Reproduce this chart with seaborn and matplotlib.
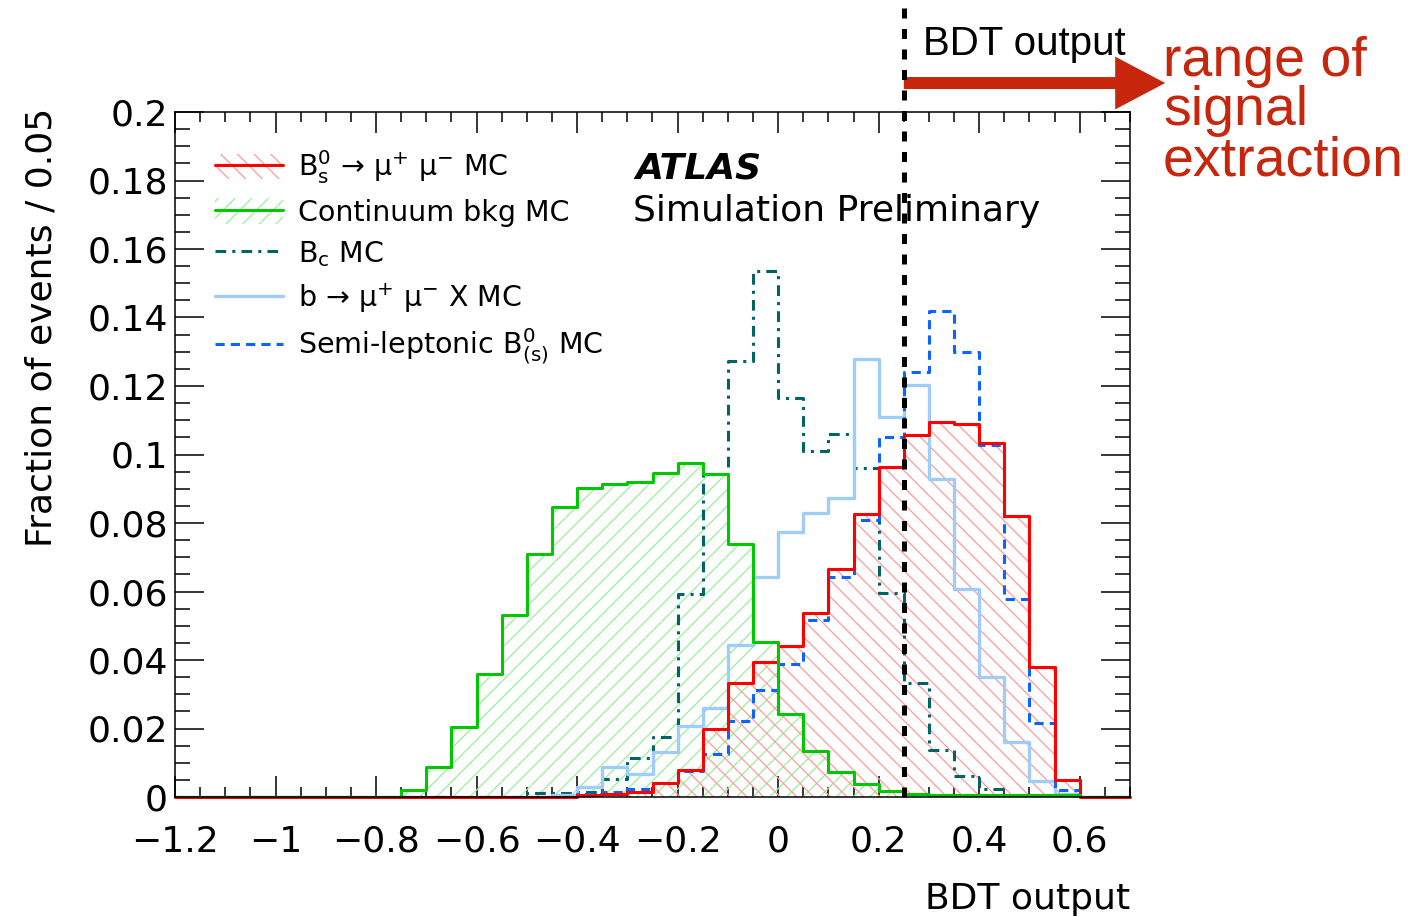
import numpy as np
import matplotlib
matplotlib.use("Agg")
import matplotlib.pyplot as plt
import seaborn as sns
from matplotlib.patches import Patch
from matplotlib.lines import Line2D
from matplotlib.legend_handler import HandlerTuple
from matplotlib.ticker import FixedLocator, MultipleLocator, FixedFormatter

# ---------------------------------------------------------------- data
# BDT output binning: 38 bins of width 0.05 between -1.2 and 0.7
BIN_LOW, BIN_WIDTH, N_BINS = -1.2, 0.05, 38
edges = [round(BIN_LOW + BIN_WIDTH * i, 4) for i in range(N_BINS + 1)]
centers = [0.5 * (a + b) for a, b in zip(edges[:-1], edges[1:])]

# fraction of events per bin
bs_mumu = [0, 0, 0, 0, 0, 0, 0, 0, 0, 0, 0, 0, 0, 0, 0, 0,
           0.0005, 0.0008, 0.0016, 0.0040, 0.0080, 0.0200, 0.0334, 0.0395,
           0.0442, 0.0536, 0.0665, 0.0827, 0.0964, 0.1057, 0.1096, 0.1088,
           0.1033, 0.0820, 0.0379, 0.0050, 0, 0]
continuum = [0, 0, 0, 0, 0, 0, 0, 0, 0,
             0.0020, 0.0089, 0.0205, 0.0358, 0.0531, 0.0709, 0.0846, 0.0901,
             0.0913, 0.0921, 0.0947, 0.0974, 0.0942, 0.0738, 0.0452, 0.0241,
             0.0135, 0.0074, 0.0037, 0.0017, 0.0010, 0.0006, 0.0006, 0.0006,
             0.0006, 0.0006, 0.0006, 0, 0]
bc = [0, 0, 0, 0, 0, 0, 0, 0, 0, 0, 0, 0, 0, 0,
      0.0013, 0.0013, 0.0015, 0.0052, 0.0114, 0.0175, 0.0592, 0.0944,
      0.1272, 0.1537, 0.1164, 0.1010, 0.1061, 0.0961, 0.0595, 0.0332,
      0.0137, 0.0062, 0.0022, 0.0005, 0, 0, 0, 0]
b_mumu_x = [0, 0, 0, 0, 0, 0, 0, 0, 0, 0, 0, 0, 0, 0, 0,
            0.0005, 0.0030, 0.0089, 0.0067, 0.0132, 0.0207, 0.0260, 0.0443,
            0.0643, 0.0775, 0.0829, 0.0872, 0.1278, 0.1109, 0.1203, 0.0928,
            0.0606, 0.0351, 0.0162, 0.0048, 0.0010, 0, 0]
semileptonic = [0, 0, 0, 0, 0, 0, 0, 0, 0, 0, 0, 0, 0, 0, 0, 0,
                0.0008, 0.0016, 0.0024, 0.0042, 0.0075, 0.0127, 0.0222, 0.0313,
                0.0387, 0.0516, 0.0641, 0.0809, 0.1052, 0.1242, 0.1420, 0.1298,
                0.1028, 0.0577, 0.0217, 0.0020, 0, 0]

legend_labels = [
    r"B$_{\mathrm{s}}^{0}$ → μ$^{+}$ μ$^{-}$ MC",
    "Continuum bkg MC",
    r"B$_{\mathrm{c}}$ MC",
    r"b → μ$^{+}$ μ$^{-}$ X MC",
    r"Semi-leptonic B$^{0}_{(\mathrm{s})}$ MC",
]

x_ticks = [-1.2, -1.0, -0.8, -0.6, -0.4, -0.2, 0.0, 0.2, 0.4, 0.6]
x_tick_labels = ["−1.2", "−1", "−0.8", "−0.6", "−0.4", "−0.2", "0", "0.2", "0.4", "0.6"]
y_ticks = [0, 0.02, 0.04, 0.06, 0.08, 0.10, 0.12, 0.14, 0.16, 0.18, 0.20]
y_tick_labels = ["0", "0.02", "0.04", "0.06", "0.08", "0.1", "0.12", "0.14", "0.16", "0.18", "0.2"]

cut_value = 0.25

# ---------------------------------------------------------------- style
sns.set_theme(style="ticks", rc={
    "text.color": "black", "axes.labelcolor": "black",
    "xtick.color": "black", "ytick.color": "black",
    "axes.edgecolor": "black", "hatch.linewidth": 0.9,
})
plt.rcParams["font.family"] = ["DejaVu Sans"]
plt.rcParams["mathtext.fontset"] = "dejavusans"

RED, RED_HATCH = "#ff0000", "#ff9a9a"
GREEN, GREEN_HATCH = "#00c800", "#9aee9a"
TEAL = "#006464"
LIGHT_BLUE = "#a0ccfa"
BLUE = "#0a64ff"
ANNOT = "#c8260c"
LW = 2.2
DASHED = (3.0, 2.0)
DASHDOT = (3.5, 2.0, 1.0, 2.0)

fig = plt.figure(figsize=(14.11, 9.17), dpi=100)
ax = fig.add_axes([175 / 1411, 120 / 917, 955 / 1411, 685 / 917])


def hist(values, **kw):
    sns.histplot(x=centers, weights=values, bins=edges, element="step",
                 stat="count", ax=ax, **kw)


# hatched areas
hist(continuum, fill=True, color=GREEN_HATCH, facecolor="none",
     edgecolor=GREEN_HATCH, linewidth=0, hatch="//")
hist(bs_mumu, fill=True, color=RED_HATCH, facecolor="none",
     edgecolor=RED_HATCH, linewidth=0, hatch="\\\\")

# outlines
hist(bc, fill=False, color=TEAL, linewidth=LW, dashes=DASHDOT)
hist(b_mumu_x, fill=False, color=LIGHT_BLUE, linewidth=2.4)
hist(semileptonic, fill=False, color=BLUE, linewidth=LW, dashes=DASHED)
hist(bs_mumu, fill=False, color=RED, linewidth=LW, clip_on=False)
hist(continuum, fill=False, color=GREEN, linewidth=LW)

# cut on the BDT output
ax.axvline(cut_value, ymin=0, ymax=1.17, color="black", lw=3.6,
           linestyle=(0, (2.0, 2.1)), clip_on=False, zorder=10)

# ---------------------------------------------------------------- axes
ax.set_xlim(edges[0], edges[-1])
ax.set_ylim(0, 0.2)
ax.xaxis.set_major_locator(FixedLocator(x_ticks))
ax.xaxis.set_major_formatter(FixedFormatter(x_tick_labels))
ax.yaxis.set_major_locator(FixedLocator(y_ticks))
ax.yaxis.set_major_formatter(FixedFormatter(y_tick_labels))
ax.xaxis.set_minor_locator(MultipleLocator(0.05))
ax.yaxis.set_minor_locator(MultipleLocator(0.005))
ax.tick_params(which="both", direction="in", top=True, right=True,
               bottom=True, left=True, width=1.1)
ax.tick_params(axis="x", which="major", length=15, pad=20, labelsize=26)
ax.tick_params(axis="x", which="minor", length=7.5)
ax.tick_params(axis="y", which="major", length=21, pad=5, labelsize=26)
ax.tick_params(axis="y", which="minor", length=10.5)
for s in ax.spines.values():
    s.set_linewidth(1.1)
    s.set_color("black")

ax.set_xlabel("BDT output", loc="right", fontsize=26)
ax.xaxis.set_label_coords(1.0, -0.124)
ax.set_ylabel("Fraction of events / 0.05", loc="top", fontsize=26)
ax.yaxis.set_label_coords(-0.122, 1.006)

# ---------------------------------------------------------------- legend
handles = [
    (Patch(facecolor="none", edgecolor=RED_HATCH, hatch="\\\\", linewidth=0),
     Line2D([], [], color=RED, lw=LW)),
    (Patch(facecolor="none", edgecolor=GREEN_HATCH, hatch="//", linewidth=0),
     Line2D([], [], color=GREEN, lw=LW)),
    Line2D([], [], color=TEAL, lw=LW, dashes=DASHDOT),
    Line2D([], [], color=LIGHT_BLUE, lw=2.4),
    Line2D([], [], color=BLUE, lw=LW, dashes=DASHED),
]
ax.legend(handles, legend_labels, loc="upper left",
          bbox_to_anchor=(0.0419, 0.947), frameon=False, fontsize=20.5,
          handlelength=2.4, handleheight=1.0, handletextpad=0.5,
          labelspacing=0.43, borderpad=0, borderaxespad=0,
          handler_map={tuple: HandlerTuple(ndivide=1)})

ax.text(0.4817, 0.9036, "ATLAS", transform=ax.transAxes, fontsize=26,
        fontweight="bold", fontstyle="italic", va="baseline", ha="left")
ax.text(0.4796, 0.841, "Simulation Preliminary", transform=ax.transAxes,
        fontsize=26, va="baseline", ha="left")

# ---------------------------------------------------------------- signal region annotation
ax.annotate("", xy=(0.77, 1.0423), xytext=(cut_value, 1.0423),
            xycoords=ax.get_xaxis_transform(), textcoords=ax.get_xaxis_transform(),
            annotation_clip=False,
            arrowprops=dict(arrowstyle="simple,head_length=36,head_width=38,tail_width=8.6",
                            mutation_scale=1, color=ANNOT, shrinkA=0, shrinkB=0, lw=0))
ax.text(0.7832, 1.0832, "BDT output", transform=ax.transAxes,
        fontsize=29, family=["Liberation Sans"], va="baseline", ha="left",
        clip_on=False)
ax.text(1.0346, 0.908, "range of\nsignal\nextraction", transform=ax.transAxes,
        fontsize=40, family=["Liberation Sans"], color=ANNOT, va="baseline",
        ha="left", linespacing=0.94, clip_on=False)

fig.savefig("out.png", dpi=100)
